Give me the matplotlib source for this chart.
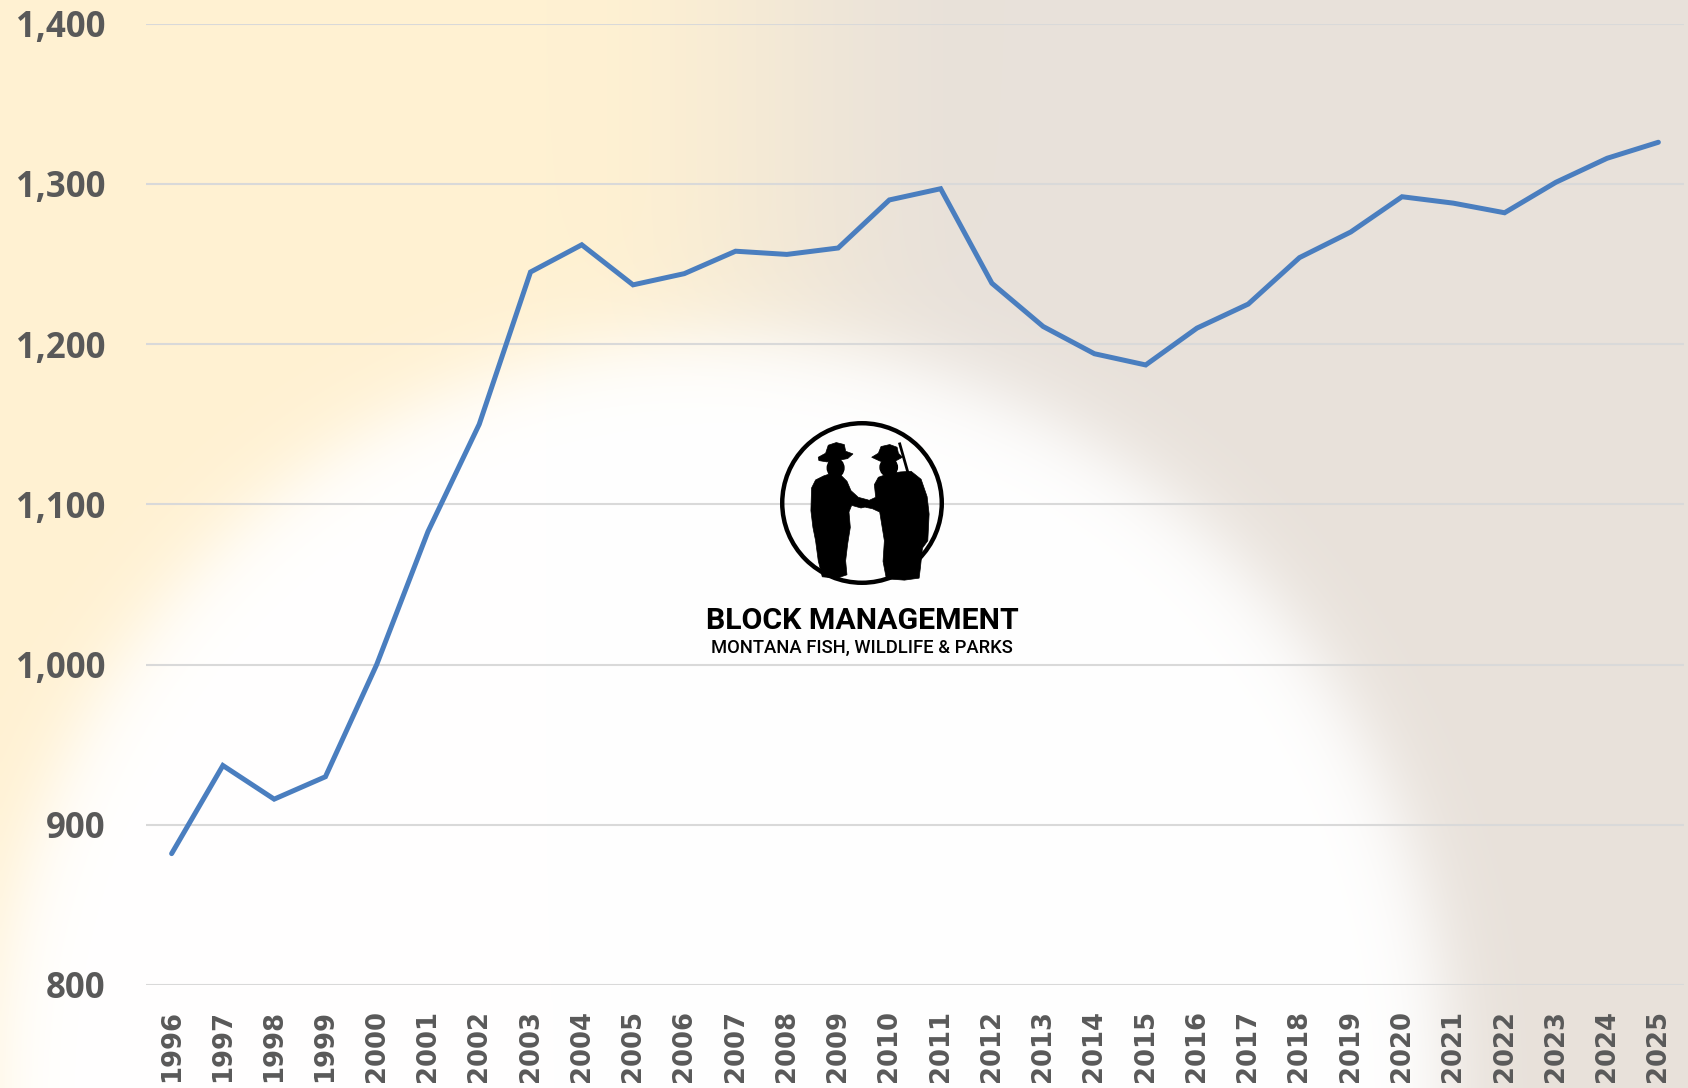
import numpy as np
import matplotlib
matplotlib.use("Agg")
import matplotlib.pyplot as plt
from matplotlib.patches import Polygon, Circle, Ellipse

years = ["1996", "1997", "1998", "1999", "2000", "2001", "2002", "2003", "2004", "2005",
         "2006", "2007", "2008", "2009", "2010", "2011", "2012", "2013", "2014", "2015",
         "2016", "2017", "2018", "2019", "2020", "2021", "2022", "2023", "2024", "2025"]
cooperators = [882, 937, 916, 930, 1000, 1083, 1150, 1245, 1262, 1237,
               1244, 1258, 1256, 1260, 1290, 1297, 1238, 1211, 1194, 1187,
               1210, 1225, 1254, 1270, 1292, 1288, 1282, 1301, 1316, 1326]
yticks = [800, 900, 1000, 1100, 1200, 1300, 1400]

W_PX, H_PX = 1688, 1088
fig = plt.figure(figsize=(W_PX / 100, H_PX / 100), dpi=100)

# --- decorative background (cream / beige with a white disc) ---
bg = fig.add_axes([0, 0, 1, 1], zorder=-10)
h, w = 272, 422
yy, xx = np.mgrid[0:h, 0:w]
X = xx / (w - 1) * W_PX
Y = yy / (h - 1) * H_PX
yellow = np.array([255, 241, 210]) / 255
beige = np.array([232, 225, 218]) / 255
white = np.array([1.0, 1.0, 1.0])
t = np.clip((X - 550) / 450, 0, 1)
t = t * t * (3 - 2 * t)
base = yellow * (1 - t)[..., None] + beige * t[..., None]
d = np.hypot((X - 720) / 1.0, (Y - 1090) / 1.03)
wm = 1 / (1 + np.exp((d - 730) / 22))
img = base * (1 - wm)[..., None] + white * wm[..., None]
bg.imshow(img, extent=[0, 1, 0, 1], aspect="auto", interpolation="bicubic")
bg.set_axis_off()

# --- main chart ---
ax = fig.add_axes([146 / W_PX, 1 - 985 / H_PX, (1684 - 146) / W_PX, (985 - 23.7) / H_PX])
ax.set_facecolor("none")
x = np.arange(len(years))
ax.plot(x, cooperators, color="#4A7EBF", linewidth=3.6, solid_capstyle="round",
        solid_joinstyle="miter", zorder=3)

ax.set_xlim(-0.5, len(years) - 0.5)
ax.set_ylim(800, 1400)
ax.set_yticks(yticks)
ax.set_yticklabels([f"{v:,}" for v in yticks])
ax.set_xticks(x)
ax.set_xticklabels(years, rotation=90, va="top", ha="center")
ax.grid(axis="y", color="#D9D9D9", linewidth=1.5)
ax.set_axisbelow(True)
for s in ax.spines.values():
    s.set_visible(False)
ax.tick_params(axis="both", length=0)
ax.tick_params(axis="y", pad=29.5)
ax.tick_params(axis="x", pad=18)
for lab in ax.get_yticklabels():
    lab.set_fontfamily("Open Sans")
    lab.set_fontweight("bold")
    lab.set_fontsize(25)
    lab.set_color("#595959")
for lab in ax.get_xticklabels():
    lab.set_fontfamily("DejaVu Sans")
    lab.set_fontweight("bold")
    lab.set_fontsize(18.6)
    lab.set_color("#595959")

# --- logo ---
cx, cy, half = 862, 503, 90
lax = fig.add_axes([(cx - half) / W_PX, 1 - (cy + half) / H_PX, 2 * half / W_PX, 2 * half / H_PX])
lax.set_xlim(-1.1, 1.1)
lax.set_ylim(-1.1, 1.1)
lax.set_axis_off()
lax.add_patch(Circle((0, 0), 0.975, fill=False, edgecolor="black", linewidth=3.2))


def cv(pts):
    return [((px - 545) / 245, (307 - py) / 245) for px, py in pts]


hat_l = [(414, 170), (436, 158), (444, 134), (468, 126), (492, 132), (496, 152), (518, 160),
         (502, 174), (470, 180), (440, 184), (416, 180)]
body_l = [(448, 220), (482, 224), (500, 242), (512, 270), (534, 290), (564, 298), (568, 316),
          (542, 322), (514, 314), (506, 334), (510, 380), (502, 430), (496, 480), (500, 522),
          (470, 532), (426, 528), (414, 480), (406, 420), (398, 380), (392, 330), (394, 262),
          (406, 238), (430, 226)]
hat_r = [(574, 170), (594, 158), (602, 138), (628, 132), (650, 140), (654, 158), (666, 170),
         (644, 182), (600, 182)]
body_r = [(594, 230), (622, 220), (660, 214), (692, 212), (722, 236), (740, 288), (746, 340),
          (742, 420), (726, 442), (720, 500), (716, 532), (672, 538), (618, 534), (608, 482),
          (612, 420), (598, 334), (576, 324), (556, 320), (560, 302), (586, 290), (582, 252)]
for poly in (hat_l, body_l, hat_r, body_r):
    lax.add_patch(Polygon(cv(poly), closed=True, facecolor="black", edgecolor="black", linewidth=0.5))
lax.add_patch(Ellipse(cv([(466, 202)])[0], 50 / 245, 56 / 245, color="black"))
lax.add_patch(Ellipse(cv([(625, 200)])[0], 52 / 245, 54 / 245, color="black"))
r0, r1 = cv([(658, 130), (682, 214)])
lax.plot([r0[0], r1[0]], [r0[1], r1[1]], color="black", linewidth=2)

fig.text(cx / W_PX, 1 - 621 / H_PX, "BLOCK MANAGEMENT", family="Roboto", weight="bold",
         fontsize=21.8, ha="center", va="center", color="black")
fig.text(cx / W_PX, 1 - 648 / H_PX, "MONTANA FISH, WILDLIFE & PARKS", family="Roboto",
         weight="medium", fontsize=13.2, ha="center", va="center", color="black")

fig.savefig("out.png", dpi=100)
